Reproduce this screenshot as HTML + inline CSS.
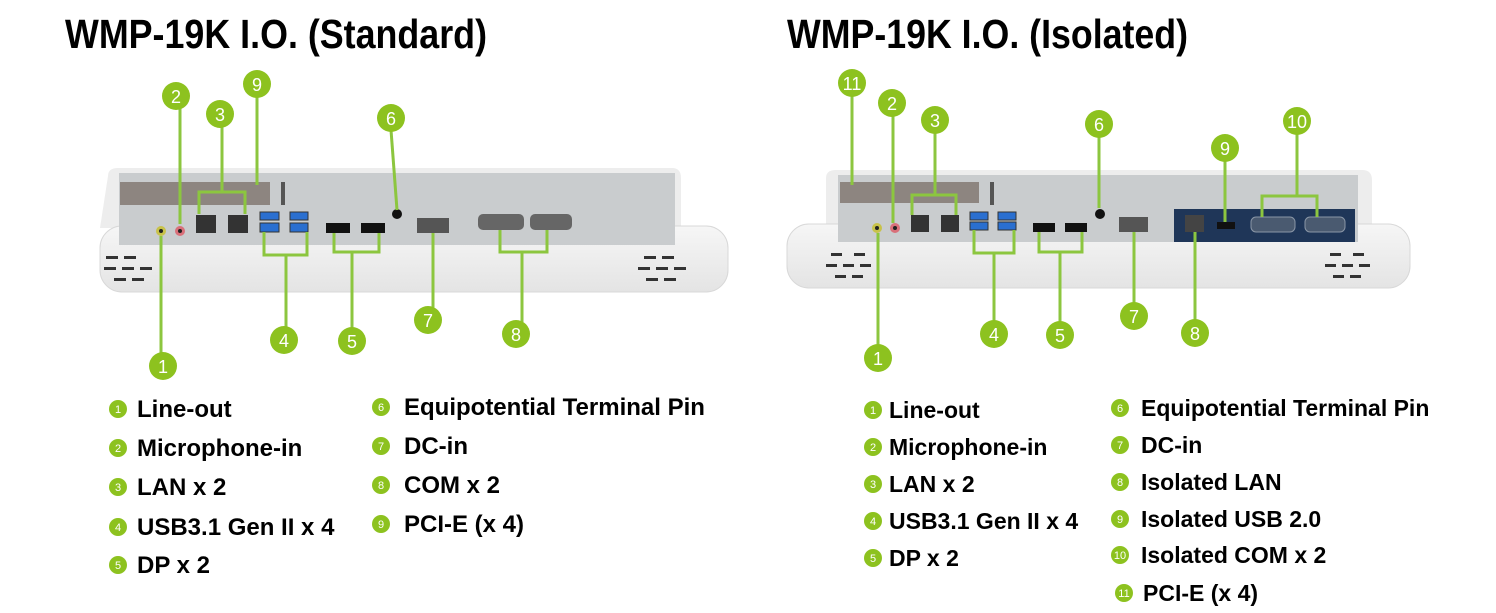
<!DOCTYPE html>
<html><head><meta charset="utf-8"><style>
html,body{margin:0;padding:0;background:#fff;}
svg{display:block;font-family:"Liberation Sans",Arial,sans-serif;}
</style></head><body>
<svg width="1496" height="613" viewBox="0 0 1496 613" xmlns="http://www.w3.org/2000/svg">
<defs>
<linearGradient id="body" x1="0" y1="0" x2="0" y2="1"><stop offset="0" stop-color="#f6f6f6"/><stop offset="1" stop-color="#e4e4e4"/></linearGradient>
</defs>
<!-- Titles -->
<text transform="translate(65,48) scale(1,1.12)" font-size="36" font-weight="bold" fill="#000" textLength="422" lengthAdjust="spacingAndGlyphs">WMP-19K I.O. (Standard)</text>
<text transform="translate(787,48) scale(1,1.12)" font-size="36" font-weight="bold" fill="#000" textLength="401" lengthAdjust="spacingAndGlyphs">WMP-19K I.O. (Isolated)</text>

<!-- LEFT DEVICE -->
<g>
<path d="M108,176 Q108,168 118,168 L672,168 Q681,168 681,178 L681,228 L100,228 Z" fill="#ededed"/>
<rect x="100" y="226" width="628" height="66" rx="22" fill="url(#body)" stroke="#d8d8d8"/>
<rect x="119" y="173" width="556" height="72" fill="#c9ccce"/>
<rect x="120" y="182" width="150" height="23" fill="#8d8580"/>
<rect x="281" y="182" width="4" height="23" fill="#555"/>
<g fill="#333"><rect x="106" y="256" width="12" height="3"/><rect x="124" y="256" width="12" height="3"/>
<rect x="104" y="267" width="12" height="3"/><rect x="122" y="267" width="12" height="3"/><rect x="140" y="267" width="12" height="3"/>
<rect x="114" y="278" width="12" height="3"/><rect x="132" y="278" width="12" height="3"/>
<rect x="644" y="256" width="12" height="3"/><rect x="662" y="256" width="12" height="3"/>
<rect x="638" y="267" width="12" height="3"/><rect x="656" y="267" width="12" height="3"/><rect x="674" y="267" width="12" height="3"/>
<rect x="646" y="278" width="12" height="3"/><rect x="664" y="278" width="12" height="3"/></g>
<circle cx="161" cy="231" r="5" fill="#c8c24a"/><circle cx="161" cy="231" r="2" fill="#222"/>
<circle cx="180" cy="231" r="5" fill="#d9707a"/><circle cx="180" cy="231" r="2" fill="#222"/>
<rect x="196" y="215" width="20" height="18" fill="#333"/><rect x="228" y="215" width="20" height="18" fill="#333"/>
<g fill="#2a6fd0" stroke="#333"><rect x="260" y="212" width="19" height="8"/><rect x="290" y="212" width="18" height="8"/><rect x="260" y="223" width="19" height="9"/><rect x="290" y="223" width="18" height="9"/></g>
<rect x="326" y="223" width="24" height="10" fill="#111"/><rect x="361" y="223" width="24" height="10" fill="#111"/>
<circle cx="397" cy="214" r="5" fill="#111"/>
<rect x="417" y="218" width="32" height="15" fill="#555"/>
<rect x="478" y="214" width="46" height="16" rx="5" fill="#666"/><rect x="530" y="214" width="42" height="16" rx="5" fill="#666"/>
</g>

<!-- RIGHT DEVICE -->
<g>
<path d="M826,178 Q826,170 836,170 L1362,170 Q1372,170 1372,180 L1372,226 L826,226 Z" fill="#ededed"/>
<rect x="787" y="224" width="623" height="64" rx="22" fill="url(#body)" stroke="#d8d8d8"/>
<rect x="838" y="175" width="520" height="67" fill="#c9ccce"/>
<rect x="840" y="182" width="139" height="21" fill="#8d8580"/>
<rect x="990" y="182" width="4" height="23" fill="#555"/>
<g fill="#333"><rect x="831" y="253" width="11" height="3"/><rect x="854" y="253" width="11" height="3"/>
<rect x="826" y="264" width="11" height="3"/><rect x="843" y="264" width="11" height="3"/><rect x="860" y="264" width="11" height="3"/>
<rect x="835" y="275" width="11" height="3"/><rect x="852" y="275" width="11" height="3"/>
<rect x="1330" y="253" width="11" height="3"/><rect x="1353" y="253" width="11" height="3"/>
<rect x="1325" y="264" width="11" height="3"/><rect x="1342" y="264" width="11" height="3"/><rect x="1359" y="264" width="11" height="3"/>
<rect x="1333" y="275" width="11" height="3"/><rect x="1350" y="275" width="11" height="3"/></g>
<circle cx="877" cy="228" r="5" fill="#c8c24a"/><circle cx="877" cy="228" r="2" fill="#222"/>
<circle cx="895" cy="228" r="5" fill="#d9707a"/><circle cx="895" cy="228" r="2" fill="#222"/>
<rect x="911" y="215" width="18" height="17" fill="#333"/><rect x="941" y="215" width="18" height="17" fill="#333"/>
<g fill="#2a6fd0" stroke="#333"><rect x="970" y="212" width="18" height="8"/><rect x="998" y="212" width="18" height="8"/><rect x="970" y="222" width="18" height="8"/><rect x="998" y="222" width="18" height="8"/></g>
<rect x="1033" y="223" width="22" height="9" fill="#111"/><rect x="1065" y="223" width="22" height="9" fill="#111"/>
<circle cx="1100" cy="214" r="5" fill="#111"/>
<rect x="1119" y="217" width="29" height="15" fill="#555"/>
<rect x="1174" y="209" width="181" height="33" fill="#1f3658"/>
<rect x="1185" y="215" width="19" height="17" fill="#444"/>
<rect x="1217" y="222" width="18" height="7" fill="#111"/>
<rect x="1251" y="217" width="44" height="15" rx="5" fill="#4a5a70" stroke="#8a96a6"/>
<rect x="1305" y="217" width="40" height="15" rx="5" fill="#4a5a70" stroke="#8a96a6"/>
</g>

<!-- connectors -->
<g stroke="#8cc63f" stroke-width="3" fill="none">
<path d="M161,236 V354"/><path d="M180,224 V108"/>
<path d="M199,214 V192 H245 V214 M222,192 V126"/>
<path d="M257,97 V185"/><path d="M391,130 L397,210"/>
<path d="M264,232 V255 H307 V232 M286,255 V328"/>
<path d="M334,233 V252 H379 V233 M352,252 V329"/>
<path d="M433,233 V308"/>
<path d="M500,230 V252 H547 V230 M522,252 V322"/>
<path d="M852,95 V185"/><path d="M893,116 V223"/>
<path d="M912,215 V195 H956 V215 M935,195 V132"/>
<path d="M1099,136 V208"/><path d="M1225,160 V222"/>
<path d="M1262,217 V196 H1317 V217 M1297,196 V133"/>
<path d="M878,233 V346"/>
<path d="M974,230 V253 H1014 V230 M994,253 V322"/>
<path d="M1039,232 V252 H1082 V232 M1060,252 V323"/>
<path d="M1134,232 V304"/><path d="M1195,232 V321"/>
</g>
<g fill="#8dc21f">
<circle cx="163" cy="366" r="14"/><circle cx="176" cy="96" r="14"/><circle cx="220" cy="114" r="14"/><circle cx="257" cy="84" r="14"/>
<circle cx="391" cy="118" r="14"/><circle cx="284" cy="340" r="14"/><circle cx="352" cy="341" r="14"/><circle cx="428" cy="320" r="14"/><circle cx="516" cy="334" r="14"/>
<circle cx="852" cy="83" r="14"/><circle cx="892" cy="103" r="14"/><circle cx="935" cy="120" r="14"/><circle cx="1099" cy="124" r="14"/>
<circle cx="1225" cy="148" r="14"/><circle cx="1297" cy="121" r="14"/><circle cx="878" cy="358" r="14"/><circle cx="994" cy="334" r="14"/>
<circle cx="1060" cy="335" r="14"/><circle cx="1134" cy="316" r="14"/><circle cx="1195" cy="333" r="14"/>
</g>
<g fill="#fff" font-size="18" text-anchor="middle">
<text x="163" y="373">1</text><text x="176" y="103">2</text><text x="220" y="121">3</text><text x="257" y="91">9</text>
<text x="391" y="125">6</text><text x="284" y="347">4</text><text x="352" y="348">5</text><text x="428" y="327">7</text><text x="516" y="341">8</text>
<text x="852" y="90">11</text><text x="892" y="110">2</text><text x="935" y="127">3</text><text x="1099" y="131">6</text>
<text x="1225" y="155">9</text><text x="1297" y="128">10</text><text x="878" y="365">1</text><text x="994" y="341">4</text>
<text x="1060" y="342">5</text><text x="1134" y="323">7</text><text x="1195" y="340">8</text>
</g>

<!-- legends -->
<g fill="#8dc21f">
<circle cx="118" cy="409" r="9"/><circle cx="118" cy="448" r="9"/><circle cx="118" cy="487" r="9"/><circle cx="118" cy="527" r="9"/><circle cx="118" cy="565" r="9"/>
<circle cx="381" cy="407" r="9"/><circle cx="381" cy="446" r="9"/><circle cx="381" cy="485" r="9"/><circle cx="381" cy="524" r="9"/>
<circle cx="873" cy="410" r="9"/><circle cx="873" cy="447" r="9"/><circle cx="873" cy="484" r="9"/><circle cx="873" cy="521" r="9"/><circle cx="873" cy="558" r="9"/>
<circle cx="1120" cy="408" r="9"/><circle cx="1120" cy="445" r="9"/><circle cx="1120" cy="482" r="9"/><circle cx="1120" cy="519" r="9"/><circle cx="1120" cy="555" r="9"/><circle cx="1124" cy="593" r="9"/>
</g>
<g fill="#fff" font-size="11" text-anchor="middle">
<text x="118" y="413">1</text><text x="118" y="452">2</text><text x="118" y="491">3</text><text x="118" y="531">4</text><text x="118" y="569">5</text>
<text x="381" y="411">6</text><text x="381" y="450">7</text><text x="381" y="489">8</text><text x="381" y="528">9</text>
<text x="873" y="414">1</text><text x="873" y="451">2</text><text x="873" y="488">3</text><text x="873" y="525">4</text><text x="873" y="562">5</text>
<text x="1120" y="412">6</text><text x="1120" y="449">7</text><text x="1120" y="486">8</text><text x="1120" y="523">9</text><text x="1120" y="559">10</text><text x="1124" y="597">11</text>
</g>
<g fill="#000" font-size="24" font-weight="bold">
<text x="137" y="417">Line-out</text><text x="137" y="456">Microphone-in</text><text x="137" y="495">LAN x 2</text><text x="137" y="535">USB3.1 Gen II x 4</text><text x="137" y="573">DP x 2</text>
<text x="404" y="415">Equipotential Terminal Pin</text><text x="404" y="454">DC-in</text><text x="404" y="493">COM x 2</text><text x="404" y="532">PCI-E (x 4)</text>
</g>
<g fill="#000" font-size="23" font-weight="bold">
<text x="889" y="418">Line-out</text><text x="889" y="455">Microphone-in</text><text x="889" y="492">LAN x 2</text><text x="889" y="529">USB3.1 Gen II x 4</text><text x="889" y="566">DP x 2</text>
<text x="1141" y="416">Equipotential Terminal Pin</text><text x="1141" y="453">DC-in</text><text x="1141" y="490">Isolated LAN</text><text x="1141" y="527">Isolated USB 2.0</text><text x="1141" y="563">Isolated COM x 2</text><text x="1143" y="601">PCI-E (x 4)</text>
</g>
</svg>
</body></html>
